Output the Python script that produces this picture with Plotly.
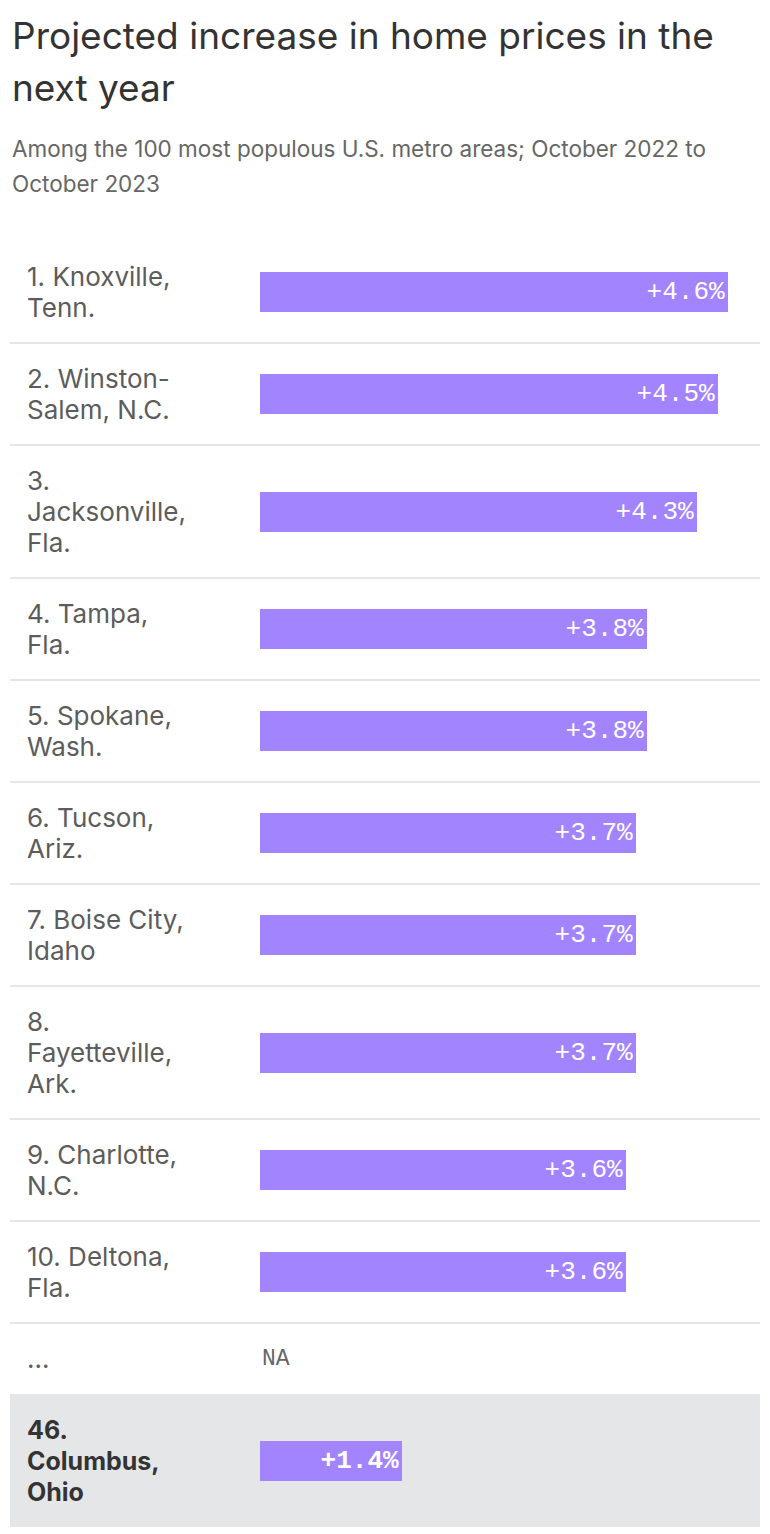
import plotly.graph_objects as go

# ---------------- data ----------------
ranks = ["1.", "2.", "3.", "4.", "5.", "6.", "7.", "8.", "9.", "10.", "...", "46."]
cities = ["Knoxville, Tenn.", "Winston-Salem, N.C.", "Jacksonville, Fla.", "Tampa, Fla.",
          "Spokane, Wash.", "Tucson, Ariz.", "Boise City, Idaho", "Fayetteville, Ark.",
          "Charlotte, N.C.", "Deltona, Fla.", "", "Columbus, Ohio"]
row_labels = ["1. Knoxville,<br>Tenn.", "2. Winston-<br>Salem, N.C.", "3.<br>Jacksonville,<br>Fla.",
              "4. Tampa,<br>Fla.", "5. Spokane,<br>Wash.", "6. Tucson,<br>Ariz.",
              "7. Boise City,<br>Idaho", "8.<br>Fayetteville,<br>Ark.", "9. Charlotte,<br>N.C.",
              "10. Deltona,<br>Fla.", "...", "46.<br>Columbus,<br>Ohio"]
values = [4.6, 4.5, 4.3, 3.8, 3.8, 3.7, 3.7, 3.7, 3.6, 3.6, None, 1.4]
highlight = [False] * 11 + [True]

title_lines = ["Projected increase in home prices in the", "next year"]
subtitle_lines = ["Among the 100 most populous U.S. metro areas; October 2022 to", "October 2023"]

# ---------------- layout constants (page pixel coordinates) ----------------
PAGE_W, PAGE_H = 770, 1534
OFF = 8                      # default page margin around the plot div
W, H = PAGE_W - OFF, PAGE_H - OFF
X0 = 260                     # page x where bars start
PX_PER_UNIT = 468 / 4.6
LEFT, RIGHT = 10, 760
LABEL_X = 25
TOP = 241
LINE_H = 31
BAR_H = 40
BAR_COLOR = "#a284ff"
SANS = "Inter, Roboto, sans-serif"
MONO = "Liberation Mono, DejaVu Sans Mono, monospace"


def px(x):
    """page x pixel -> paper fraction"""
    return (x - OFF) / W


# row geometry from label line count
tops, centers, bottoms = [], [], []
y = TOP
for lab in row_labels:
    n = lab.count("<br>") + 1
    h = BAR_H + LINE_H * n
    tops.append(y)
    centers.append(y + h / 2)
    bottoms.append(y + h)
    y += h

fig = go.Figure()

bx, by, bt = [], [], []
for v, c, hl in zip(values, centers, highlight):
    if v is None:
        continue
    bx.append(v)
    by.append(c)
    s = f"+{v:.1f}%"
    bt.append(f"<b>{s}</b>" if hl else s)

fig.add_trace(go.Bar(
    x=bx, y=by, orientation="h", width=BAR_H,
    marker=dict(color=BAR_COLOR, line=dict(width=0)),
    text=bt, textposition="inside", insidetextanchor="end",
    textfont=dict(family=MONO, size=26, color="white"),
    constraintext="none", hoverinfo="skip", cliponaxis=False,
))

shapes = []
annotations = []
for i, (lab, c, hl) in enumerate(zip(row_labels, centers, highlight)):
    if hl:
        shapes.append(dict(type="rect", xref="paper", yref="y", x0=px(LEFT), x1=px(RIGHT),
                           y0=tops[i], y1=bottoms[i], fillcolor="#e5e6e8",
                           line=dict(width=0), layer="below"))
    elif i + 1 < len(row_labels) and not highlight[i + 1]:
        b = bottoms[i]
        shapes.append(dict(type="line", xref="paper", yref="y", x0=px(LEFT), x1=px(RIGHT),
                           y0=b, y1=b, line=dict(color="#e6e6e6", width=2), layer="below"))
    lines = lab.split("<br>")
    n = len(lines)
    for k, ln in enumerate(lines):
        annotations.append(dict(
            xref="paper", yref="y", x=px(LABEL_X), y=c + (k - (n - 1) / 2) * LINE_H,
            xanchor="left", yanchor="middle",
            text=(f"<b>{ln}</b>" if hl else ln), showarrow=False, align="left",
            font=dict(family=SANS, size=26 if not hl else 25,
                      color="#333333" if hl else "#5c5c5c"),
        ))
    if values[i] is None:
        annotations.append(dict(
            xref="x", yref="y", x=0, y=c, xanchor="left", yanchor="middle",
            text="NA", showarrow=False,
            font=dict(family=MONO, size=23, color="#666666"),
        ))

for t, yy in zip(title_lines, [35, 87]):
    annotations.append(dict(xref="paper", yref="y", x=px(LEFT), y=yy, xanchor="left",
                            yanchor="middle", text=t, showarrow=False,
                            font=dict(family=SANS, size=37, color="#333333")))
for t, yy in zip(subtitle_lines, [148, 183]):
    annotations.append(dict(xref="paper", yref="y", x=px(LEFT), y=yy, xanchor="left",
                            yanchor="middle", text=t, showarrow=False,
                            font=dict(family=SANS, size=22.5, color="#666666")))

fig.update_layout(
    width=W, height=H, autosize=False,
    margin=dict(l=0, r=0, t=0, b=0),
    paper_bgcolor="white", plot_bgcolor="white",
    showlegend=False, bargap=0,
    xaxis=dict(domain=[0, 1], range=[-(X0 - OFF) / PX_PER_UNIT, (PAGE_W - X0) / PX_PER_UNIT],
               visible=False, fixedrange=True),
    yaxis=dict(range=[PAGE_H, OFF], visible=False, fixedrange=True),
    shapes=shapes, annotations=annotations,
)

fig.write_html("out.html", config={"displayModeBar": False})
